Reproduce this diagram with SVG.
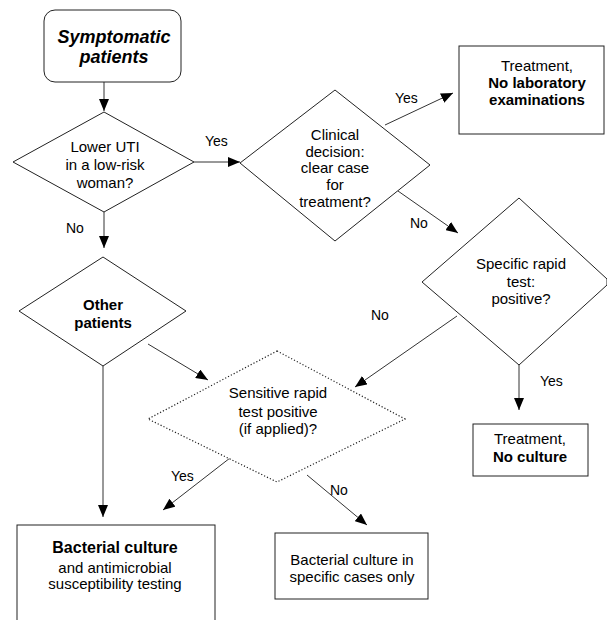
<svg xmlns="http://www.w3.org/2000/svg" width="607" height="620" viewBox="0 0 607 620">
<defs>
<marker id="ah" markerWidth="12" markerHeight="10" refX="12" refY="5" orient="auto" markerUnits="userSpaceOnUse">
<path d="M0,0 L12,5 L0,10 Z" fill="#000"/>
</marker>
<style>
.shape{fill:#fff;stroke:#222;stroke-width:1}
.dot{fill:#fff;stroke:#222;stroke-width:1.2;stroke-dasharray:1.2 2}
.con{stroke:#333;stroke-width:1;fill:none;marker-end:url(#ah)}
text{font-family:"Liberation Sans",Arial,sans-serif;fill:#000;text-anchor:middle}
.t{font-size:15px}
.b{font-size:15px;font-weight:bold}
.lbl{font-size:14px;text-anchor:start}
</style>
</defs>
<rect width="607" height="620" fill="#fff"/>
<g id="connectors">
<line class="con" x1="104" y1="82" x2="104" y2="111"/>
<line class="con" x1="194" y1="162" x2="240" y2="162"/>
<line class="con" x1="104" y1="212" x2="104" y2="248"/>
<line class="con" x1="385" y1="125" x2="453" y2="93"/>
<line class="con" x1="398" y1="191" x2="458" y2="233"/>
<line class="con" x1="457" y1="316" x2="355" y2="387"/>
<line class="con" x1="519" y1="365" x2="519" y2="410"/>
<line class="con" x1="148" y1="344" x2="208" y2="380"/>
<line class="con" x1="103" y1="366" x2="103" y2="517"/>
<line class="con" x1="230" y1="458" x2="163" y2="510"/>
<line class="con" x1="307" y1="475" x2="367" y2="525"/>
<text class="lbl" x="205" y="146">Yes</text>
<text class="lbl" x="66" y="233">No</text>
<text class="lbl" x="395" y="103">Yes</text>
<text class="lbl" x="410" y="228">No</text>
<text class="lbl" x="371" y="320">No</text>
<text class="lbl" x="540" y="386">Yes</text>
<text class="lbl" x="171" y="481">Yes</text>
<text class="lbl" x="330" y="495">No</text>
</g>
<g id="symptomatic">
<rect class="shape" x="44" y="10" width="137" height="72" rx="11"/>
<text x="114" y="43" style="font-size:18px;font-weight:bold;font-style:italic">Symptomatic</text>
<text x="114" y="63" style="font-size:18px;font-weight:bold;font-style:italic">patients</text>
</g>
<g id="lower-uti">
<polygon class="shape" points="104,112 194,162 104,212 13,162"/>
<text class="t" x="105" y="152">Lower UTI</text>
<text class="t" x="105" y="170">in a low-risk</text>
<text class="t" x="105" y="188">woman?</text>
</g>
<g id="clinical">
<polygon class="shape" points="335,90 430,165 335,241 240,163"/>
<text class="t" x="335" y="140">Clinical</text>
<text class="t" x="335" y="157">decision:</text>
<text class="t" x="335" y="173">clear case</text>
<text class="t" x="335" y="190">for</text>
<text class="t" x="335" y="207">treatment?</text>
</g>
<g id="treatment-nolab">
<rect class="shape" x="459" y="46" width="145" height="88"/>
<text class="t" x="537" y="71">Treatment,</text>
<text class="b" x="537" y="88">No laboratory</text>
<text class="b" x="537" y="105">examinations</text>
</g>
<g id="specific">
<polygon class="shape" points="519,198 607,279 607,285 519,365 422,282"/>
<text class="t" x="521" y="269">Specific rapid</text>
<text class="t" x="521" y="287">test:</text>
<text class="t" x="521" y="304">positive?</text>
</g>
<g id="treatment-noculture">
<rect class="shape" x="473" y="424" width="115" height="52"/>
<text class="t" x="530" y="444">Treatment,</text>
<text class="b" x="530" y="462">No culture</text>
</g>
<g id="other">
<polygon class="shape" points="103,257 186,311 103,366 19,311"/>
<text class="b" x="103" y="310">Other</text>
<text class="b" x="103" y="328">patients</text>
</g>
<g id="sensitive">
<polygon class="dot" points="277,351 405,419 277,482 148,419"/>
<text class="t" x="278" y="398">Sensitive rapid</text>
<text class="t" x="278" y="417">test positive</text>
<text class="t" x="278" y="434">(if applied)?</text>
</g>
<g id="bacterial">
<rect class="shape" x="17" y="525" width="198" height="100"/>
<text x="115" y="553" style="font-size:16px;font-weight:bold">Bacterial culture</text>
<text class="t" x="115" y="573">and antimicrobial</text>
<text class="t" x="115" y="589">susceptibility testing</text>
</g>
<g id="specific-cases">
<rect class="shape" x="275" y="533" width="153" height="66"/>
<text class="t" x="352" y="565">Bacterial culture in</text>
<text class="t" x="352" y="582">specific cases only</text>
</g>
</svg>
